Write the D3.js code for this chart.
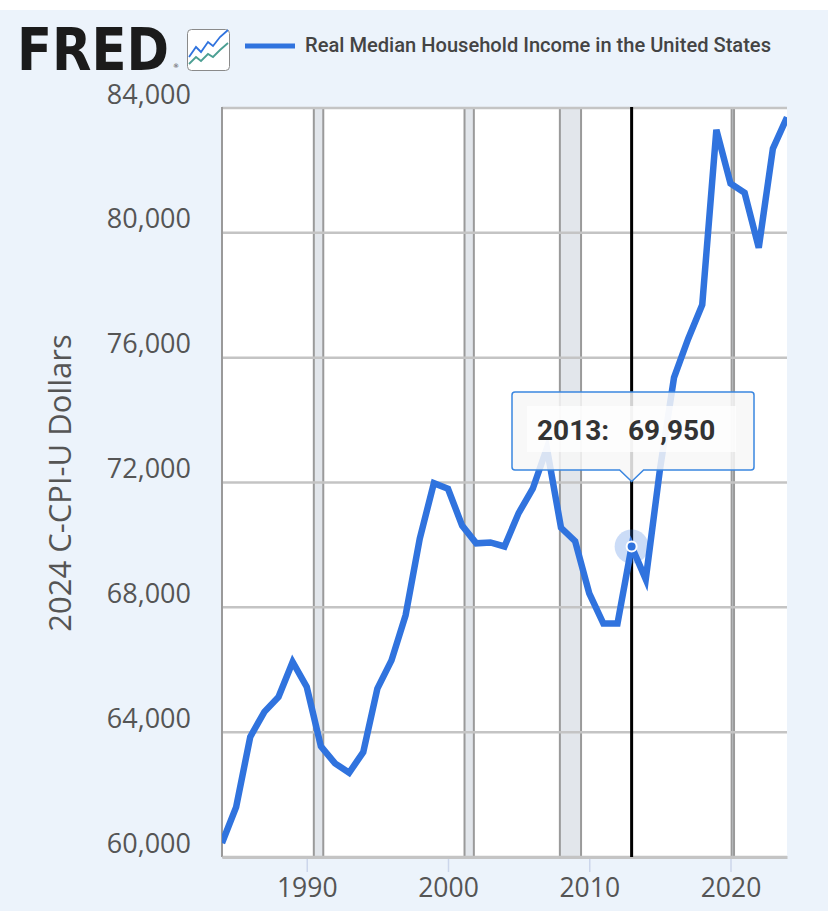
<!DOCTYPE html>
<html>
<head>
<meta charset="utf-8">
<script src="https://cdn.jsdelivr.net/npm/d3@7"></script>
<style>
  html, body { margin: 0; padding: 0; background: #fff; }
  svg { display: block; }
</style>
</head>
<body>
<div class="chart"></div>
<script>
// --- Data ---
const years = [1984, 1985, 1986, 1987, 1988, 1989, 1990, 1991, 1992, 1993,
               1994, 1995, 1996, 1997, 1998, 1999, 2000, 2001, 2002, 2003,
               2004, 2005, 2006, 2007, 2008, 2009, 2010, 2011, 2012, 2013,
               2014, 2015, 2016, 2017, 2018, 2019, 2020, 2021, 2022, 2023, 2024];
const income = [60450, 61600, 63850, 64650, 65130, 66250, 65450, 63550, 63000, 62700,
                63360, 65400, 66300, 67750, 70200, 71980, 71800, 70620, 70050, 70080,
                69950, 71020, 71800, 73100, 70550, 70120, 68450, 67480, 67480, 69950,
                68900, 72400, 75360, 76600, 77700, 83300, 81580, 81280, 79520, 82700, 83700];
const yTicks = [60000, 64000, 68000, 72000, 76000, 80000, 84000];
const xTicks = [1990, 2000, 2010, 2020];
// recessions as decimal years (start, end)
const recessionStart = [1990.5, 2001.17, 2007.92, 2020.08];
const recessionEnd = [1991.17, 2001.83, 2009.42, 2020.25];
const hoverYear = 2013;
const seriesName = "Real Median Household Income in the United States";
const yTitle = "2024 C-CPI-U Dollars";

const W = 828, H = 911;
const plot = { left: 222, right: 787, top: 108, bottom: 857 };
const lineColor = "#3073de";

const svg = d3.select(".chart").append("svg")
    .attr("width", W)
    .attr("height", H);

// page background (white strip on top, light blue below)
svg.append("rect")
    .attr("x", 0).attr("y", 10)
    .attr("width", W).attr("height", H - 10)
    .attr("fill", "#ecf3fb");

const x = d3.scaleLinear().domain([1984, 2024]).range([plot.left, plot.right]);
const y = d3.scaleLinear().domain([60000, 84000]).range([plot.bottom, plot.top]);

// plot background
svg.append("rect")
    .attr("x", plot.left).attr("y", plot.top)
    .attr("width", plot.right - plot.left).attr("height", plot.bottom - plot.top)
    .attr("fill", "#fff");

svg.append("clipPath").attr("id", "plotClip")
    .append("rect")
    .attr("x", plot.left).attr("y", plot.top)
    .attr("width", plot.right - plot.left).attr("height", plot.bottom - plot.top);

// recession shading
const rec = svg.append("g").selectAll("g")
    .data(recessionStart.map((s, i) => ({ s, e: recessionEnd[i] })))
    .enter().append("g");
rec.append("rect")
    .attr("x", d => x(d.s)).attr("y", plot.top)
    .attr("width", d => x(d.e) - x(d.s)).attr("height", plot.bottom - plot.top)
    .attr("fill", "#e2e6eb");
rec.selectAll("line")
    .data(d => [d.s, d.e])
    .enter().append("line")
    .attr("x1", d => x(d)).attr("x2", d => x(d))
    .attr("y1", plot.top).attr("y2", plot.bottom)
    .attr("stroke", "#9a9a9a").attr("stroke-width", 2);

// horizontal gridlines
svg.append("g").selectAll("line")
    .data(yTicks)
    .enter().append("line")
    .attr("x1", plot.left).attr("x2", plot.right)
    .attr("y1", d => y(d)).attr("y2", d => y(d))
    .attr("stroke", "#c4c4c4").attr("stroke-width", 2.5);

// left border
svg.append("line")
    .attr("x1", plot.left).attr("x2", plot.left)
    .attr("y1", plot.top - 1).attr("y2", plot.bottom)
    .attr("stroke", "#9a9a9a").attr("stroke-width", 2);

// y axis labels (sit just above the gridline, FRED style)
const yAxis = d3.axisLeft(y)
    .tickValues(yTicks)
    .tickFormat(d3.format(","))
    .tickSize(0);
const yG = svg.append("g")
    .attr("transform", `translate(${plot.left},0)`)
    .call(yAxis);
yG.select(".domain").remove();
yG.selectAll("text")
    .attr("x", -31)
    .attr("dy", null)
    .attr("y", -5)
    .style("font-family", "'Open Sans', 'Noto Sans', sans-serif")
    .style("font-size", "27px")
    .style("fill", "#555");

// x axis
const xAxis = d3.axisBottom(x)
    .tickValues(xTicks)
    .tickFormat(d3.format("d"))
    .tickSize(13)
    .tickSizeOuter(0)
    .tickPadding(8);
const xG = svg.append("g")
    .attr("transform", `translate(0,${plot.bottom})`)
    .call(xAxis);
xG.select(".domain")
    .attr("stroke", "#c4c4c4")
    .attr("stroke-width", 3);
xG.selectAll(".tick line")
    .attr("stroke", "#ccd6eb")
    .attr("stroke-width", 1.5)
    .attr("transform", "translate(0,2)");
xG.selectAll("text")
    .style("font-family", "'Open Sans', 'Noto Sans', sans-serif")
    .style("font-size", "26.5px")
    .style("fill", "#555");

// y axis title
svg.append("text")
    .attr("transform", `translate(71,483) rotate(-90)`)
    .attr("text-anchor", "middle")
    .style("font-family", "'Open Sans', 'Noto Sans', sans-serif")
    .style("font-size", "31px")
    .style("fill", "#555")
    .text(yTitle);

// crosshair at hovered year
svg.append("line")
    .attr("x1", x(hoverYear)).attr("x2", x(hoverYear))
    .attr("y1", plot.top - 1).attr("y2", plot.bottom)
    .attr("stroke", "#000").attr("stroke-width", 3);

// data line
const series = years.map((yr, i) => ({ yr, v: income[i] }));
const line = d3.line().x(d => x(d.yr)).y(d => y(d.v));
svg.append("path")
    .datum(series)
    .attr("clip-path", "url(#plotClip)")
    .attr("d", line)
    .attr("fill", "none")
    .attr("stroke", lineColor)
    .attr("stroke-width", 6.5)
    .attr("stroke-linejoin", "miter");

// hover marker
const hv = income[years.indexOf(hoverYear)];
svg.append("circle")
    .attr("cx", x(hoverYear)).attr("cy", y(hv)).attr("r", 17)
    .attr("fill", lineColor).attr("fill-opacity", 0.25);
svg.append("circle")
    .attr("cx", x(hoverYear)).attr("cy", y(hv)).attr("r", 5)
    .attr("fill", lineColor).attr("stroke", "#fff").attr("stroke-width", 2);

// tooltip
const tipX = x(hoverYear), tipY = y(72000) - 1;
const bx0 = 512, bx1 = 754, by0 = 392, by1 = 470;
const tip = svg.append("g");
tip.append("path")
    .attr("d", `M${bx0 + 3},${by0} H${bx1 - 3} Q${bx1},${by0} ${bx1},${by0 + 3} V${by1 - 3} Q${bx1},${by1} ${bx1 - 3},${by1}
        H${tipX + 12} L${tipX},${tipY} L${tipX - 12},${by1} H${bx0 + 3} Q${bx0},${by1} ${bx0},${by1 - 3} V${by0 + 3} Q${bx0},${by0} ${bx0 + 3},${by0} Z`)
    .attr("fill", "#f7f7f7").attr("fill-opacity", 0.85)
    .attr("stroke", "#3a86e0").attr("stroke-width", 1.5);
tip.append("rect")
    .attr("x", 527).attr("y", 406).attr("width", 209).attr("height", 46)
    .attr("fill", "#fff").attr("fill-opacity", 0.75);
tip.append("text")
    .attr("x", 537).attr("y", 440)
    .style("font-family", "Roboto, sans-serif")
    .style("font-weight", "bold")
    .style("font-size", "28px")
    .style("fill", "#333")
    .text(`${hoverYear}:`);
tip.append("text")
    .attr("x", 628).attr("y", 440)
    .style("font-family", "Roboto, sans-serif")
    .style("font-weight", "bold")
    .style("font-size", "28px")
    .style("fill", "#333")
    .text(d3.format(",")(hv));

// FRED logo
svg.append("text")
    .attr("x", 17).attr("y", 70)
    .attr("textLength", 152)
    .attr("lengthAdjust", "spacingAndGlyphs")
    .style("font-family", "'DejaVu Sans', sans-serif")
    .style("font-weight", "bold")
    .style("font-size", "58px")
    .style("fill", "#1b1b1b")
    .text("FRED");
svg.append("text")
    .attr("x", 173).attr("y", 68)
    .style("font-family", "'DejaVu Sans', sans-serif")
    .style("font-size", "6px")
    .style("fill", "#333")
    .text("®");
const icon = svg.append("g").attr("transform", "translate(187,29)");
icon.append("rect")
    .attr("x", 0.5).attr("y", 0.5).attr("width", 42).attr("height", 41).attr("rx", 4)
    .attr("fill", "#fff").attr("stroke", "#8a8a8a").attr("stroke-width", 1);
icon.append("polyline")
    .attr("points", "2,28 9,18 14,23 21,13 26,17 33,8 41,1")
    .attr("fill", "none").attr("stroke", "#3073de").attr("stroke-width", 1.8);
icon.append("polyline")
    .attr("points", "2,35 9,28 14,32 21,25 26,28 33,21 41,14")
    .attr("fill", "none").attr("stroke", "#4c9f93").attr("stroke-width", 1.8);

// legend
svg.append("line")
    .attr("x1", 245).attr("x2", 295).attr("y1", 46).attr("y2", 46)
    .attr("stroke", lineColor).attr("stroke-width", 5);
svg.append("text")
    .attr("x", 305).attr("y", 52)
    .attr("textLength", 466)
    .attr("lengthAdjust", "spacingAndGlyphs")
    .style("font-family", "Roboto, sans-serif")
    .style("font-weight", "500")
    .style("font-size", "20px")
    .style("fill", "#444")
    .text(seriesName);
</script>
</body>
</html>
